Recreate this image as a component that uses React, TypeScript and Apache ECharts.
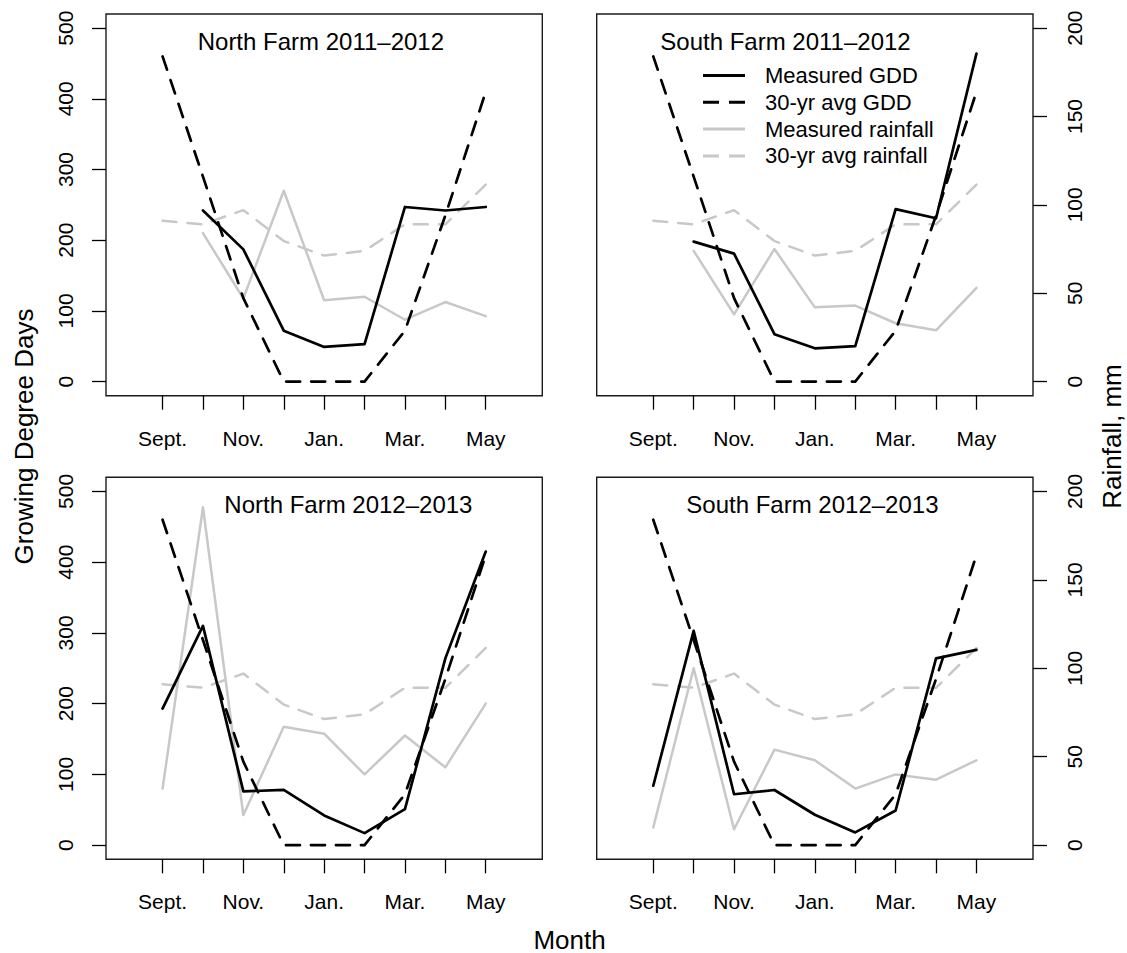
import React, { useEffect, useRef } from 'react';
import * as echarts from 'echarts';

const months = ['Sept.', 'Oct.', 'Nov.', 'Dec.', 'Jan.', 'Feb.', 'Mar.', 'Apr.', 'May'];
const monthPos = [0, 1, 2, 3, 4, 5, 6, 7, 8];
const labelledMonths = [0, 2, 4, 6, 8];
const gddTicks = [0, 100, 200, 300, 400, 500];
const rainTicks = [0, 50, 100, 150, 200];

const panelTitles = ['North Farm 2011–2012', 'South Farm 2011–2012', 'North Farm 2012–2013', 'South Farm 2012–2013'];
const seriesNames = ['Measured GDD', '30-yr avg GDD', 'Measured rainfall', '30-yr avg rainfall'];

// 30-year averages (same in every panel)
const avgGDD = [460, 290, 118, 0, 0, 0, 72, 235, 410];
const avgRain = [91, 89, 97, 79.5, 71.3, 74, 89, 89, 111.5];

// measured values (null = not measured)
const northGDD2011 = [null, 242, 187, 72, 49, 53, 247, 242, 247];
const northRain2011 = [null, 84, 47, 108, 46, 48, 35, 45, 37];
const southGDD2011 = [null, 198, 181, 67, 47, 50, 244, 231, 464];
const southRain2011 = [null, 74, 38, 75, 42, 43, 33, 29, 53];
const northGDD2012 = [193, 310, 76, 78, 42, 17, 51, 264, 415];
const northRain2012 = [32, 191, 17, 67, 63, 40, 62, 44, 80];
const southGDD2012 = [84, 303, 72, 78, 43, 18, 49, 264, 276];
const southRain2012 = [10, 100, 9, 54, 48, 32, 40, 37, 48];

const measuredGDD = [northGDD2011, southGDD2011, northGDD2012, southGDD2012];
const measuredRain = [northRain2011, southRain2011, northRain2012, southRain2012];

const FONT = "'Liberation Sans', Arial, Helvetica, sans-serif";
const BLACK = '#000000';
const GRAY = '#c8c8c8';

// layout
const grids = [
  { left: 106, top: 14, width: 436.3, height: 381.7 },
  { left: 596.7, top: 14, width: 436.3, height: 381.7 },
  { left: 106, top: 477.3, width: 436.3, height: 382 },
  { left: 596.7, top: 477.3, width: 436.3, height: 382 },
];
const titlePos = [
  { x: 197.7, y: 41 },
  { x: 660.3, y: 41 },
  { x: 224.3, y: 504.5 },
  { x: 686.3, y: 504.5 },
];
const Y_LABEL_GAP_LEFT = 41;
const Y_LABEL_GAP_RIGHT = 41.5;

const SOLID_ICON = 'path://M0,0H42V3H0Z';
const DASH_ICON = 'path://M0,0H16V3H0ZM26,0H42V3H26Z';

function pairs(vals: (number | null)[]) {
  const out: [number, number][] = [];
  monthPos.forEach((m, i) => {
    const v = vals[i];
    if (v !== null && v !== undefined) out.push([m, v]);
  });
  return out;
}

export default function App() {
  const ref = useRef<HTMLDivElement>(null);
  useEffect(() => {
    if (!ref.current) return;
    const chart = echarts.init(ref.current, undefined, { renderer: 'svg' });
    const tickStyle = { color: BLACK, width: 1.3 };
    const xAxes = grids.map((_, p) => ({
      type: 'value',
      gridIndex: p,
      position: 'bottom',
      min: -1.4,
      max: 9.4,
      axisLine: { show: false, onZero: false },
      splitLine: { show: false },
      axisTick: { show: true, length: 14, lineStyle: tickStyle, customValues: monthPos },
      axisLabel: {
        show: true,
        customValues: labelledMonths,
        formatter: (v: number) => months[Math.round(v)],
        fontSize: 21,
        fontFamily: FONT,
        color: BLACK,
        margin: 32,
      },
    }));
    const yAxes: any[] = [];
    grids.forEach((_, p) => {
      const isLeft = p % 2 === 0;
      yAxes.push({
        type: 'value',
        gridIndex: p,
        position: 'left',
        min: -20,
        max: 520,
        axisLine: { show: false, onZero: false },
        splitLine: { show: false },
        axisTick: { show: isLeft, length: 14, lineStyle: tickStyle, customValues: gddTicks },
        axisLabel: { show: false },
      });
      yAxes.push({
        type: 'value',
        gridIndex: p,
        position: 'right',
        min: -8,
        max: 208,
        axisLine: { show: false, onZero: false },
        splitLine: { show: false },
        axisTick: { show: !isLeft, length: 14, lineStyle: tickStyle, customValues: rainTicks },
        axisLabel: { show: false },
      });
    });

    const series: any[] = [];
    grids.forEach((_, p) => {
      const common = { type: 'line', xAxisIndex: p, symbol: 'none', silent: true, clip: true };
      series.push({
        ...common,
        name: seriesNames[3],
        yAxisIndex: 2 * p + 1,
        data: pairs(avgRain),
        lineStyle: { color: GRAY, width: 2.5, type: [14, 11], cap: 'round', join: 'round' },
        itemStyle: { color: GRAY },
      });
      series.push({
        ...common,
        name: seriesNames[2],
        yAxisIndex: 2 * p + 1,
        data: pairs(measuredRain[p]),
        lineStyle: { color: GRAY, width: 2.5, type: 'solid', cap: 'round', join: 'round' },
        itemStyle: { color: GRAY },
      });
      series.push({
        ...common,
        name: seriesNames[1],
        yAxisIndex: 2 * p,
        data: pairs(avgGDD),
        lineStyle: { color: BLACK, width: 2.7, type: [14, 11], cap: 'round', join: 'round' },
        itemStyle: { color: BLACK },
      });
      series.push({
        ...common,
        name: seriesNames[0],
        yAxisIndex: 2 * p,
        data: pairs(measuredGDD[p]),
        lineStyle: { color: BLACK, width: 2.7, type: 'solid', cap: 'round', join: 'round' },
        itemStyle: { color: BLACK },
      });
    });

    const graphics: any[] = panelTitles.map((t, i) => ({
      type: 'text',
      x: titlePos[i].x,
      y: titlePos[i].y,
      style: { text: t, fontSize: 24, fontFamily: FONT, fill: BLACK, align: 'left', verticalAlign: 'middle' },
    }));
    graphics.push({
      type: 'text',
      x: 569.5,
      y: 939.5,
      style: { text: 'Month', fontSize: 26, fontFamily: FONT, fill: BLACK, align: 'center', verticalAlign: 'middle' },
    });
    graphics.push({
      type: 'text',
      x: 24,
      y: 436.5,
      rotation: Math.PI / 2,
      style: { text: 'Growing Degree Days', fontSize: 26, fontFamily: FONT, fill: BLACK, align: 'center', verticalAlign: 'middle' },
    });
    graphics.push({
      type: 'text',
      x: 1112,
      y: 436.5,
      rotation: Math.PI / 2,
      style: { text: 'Rainfall, mm', fontSize: 26, fontFamily: FONT, fill: BLACK, align: 'center', verticalAlign: 'middle' },
    });

    const legendColors = [BLACK, BLACK, GRAY, GRAY];
    const legendIcons = [SOLID_ICON, DASH_ICON, SOLID_ICON, DASH_ICON];

    chart.setOption({
      animation: false,
      backgroundColor: '#ffffff',
      grid: grids.map((g) => ({ ...g, show: true, borderColor: '#1a1a1a', borderWidth: 1.4, backgroundColor: 'transparent', containLabel: false })),
      xAxis: xAxes,
      yAxis: yAxes,
      legend: {
        orient: 'vertical',
        left: 703,
        top: 64.5,
        itemWidth: 42,
        itemHeight: 3,
        itemGap: 4.8,
        selectedMode: false,
        padding: 0,
        data: seriesNames.map((n, i) => ({
          name: n,
          icon: legendIcons[i],
          itemStyle: { color: legendColors[i], borderWidth: 0 },
        })),
        textStyle: { fontSize: 22, lineHeight: 22, fontFamily: FONT, color: BLACK, padding: [0, 0, 0, 15] },
      },
      series,
      graphic: graphics,
    });

    // rotated y tick labels, placed through the axes' own scales
    const tickLabels: any[] = [];
    grids.forEach((g, p) => {
      const isLeft = p % 2 === 0;
      const axisIndex = isLeft ? 2 * p : 2 * p + 1;
      const ticks = isLeft ? gddTicks : rainTicks;
      const x = isLeft ? g.left - Y_LABEL_GAP_LEFT : g.left + g.width + Y_LABEL_GAP_RIGHT;
      ticks.forEach((v) => {
        const y = chart.convertToPixel({ yAxisIndex: axisIndex }, v) as unknown as number;
        tickLabels.push({
          type: 'text',
          x,
          y,
          rotation: Math.PI / 2,
          style: { text: String(v), fontSize: 21, fontFamily: FONT, fill: BLACK, align: 'center', verticalAlign: 'middle' },
        });
      });
    });
    chart.setOption({ graphic: [...graphics, ...tickLabels] });

    return () => chart.dispose();
  }, []);
  return <div ref={ref} style={{ position: 'absolute', left: 0, top: 0, width: 1127, height: 953 }} />;
}
